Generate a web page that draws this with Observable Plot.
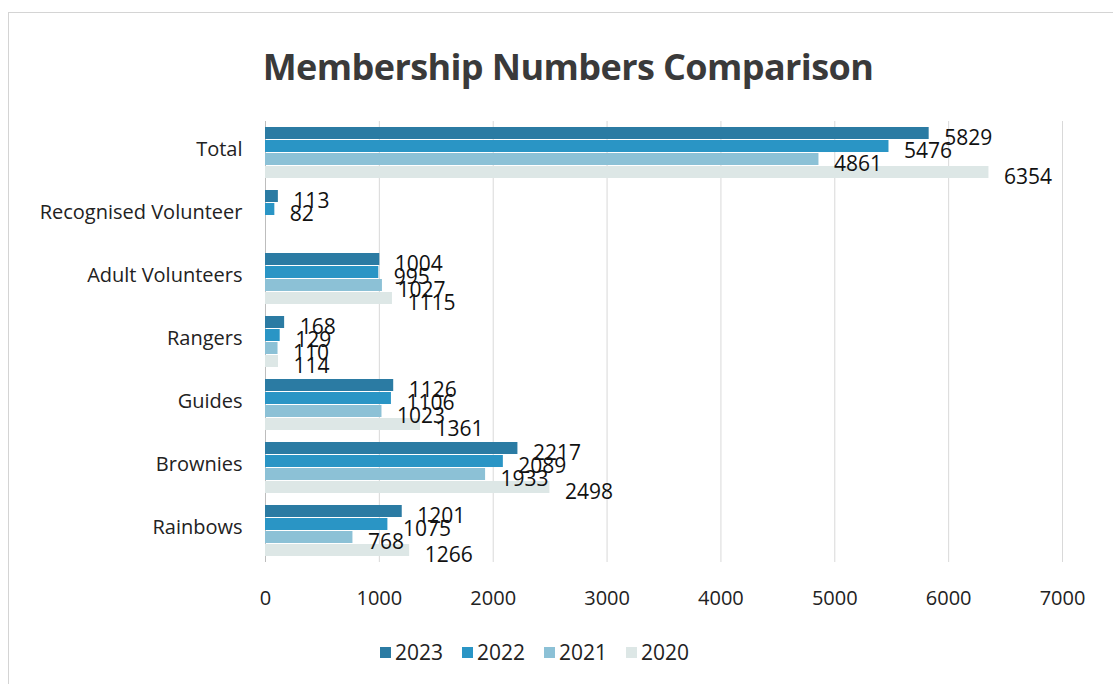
<!DOCTYPE html>
<html>
<head>
<meta charset="utf-8">
<script src="https://cdn.jsdelivr.net/npm/d3@7"></script>
<script src="https://cdn.jsdelivr.net/npm/@observablehq/plot@0.6"></script>
<style>
  html, body { margin: 0; padding: 0; background: #fff; width: 1114px; height: 684px; overflow: hidden; }
  #frame { position: absolute; left: 8px; top: 12px; width: 1104px; height: 680px; border-top: 1px solid #d4d4d4; border-left: 1px solid #d4d4d4; }
  #title { position: absolute; top: 42px; left: 0; width: 1136px; text-align: center; font-family: "Open Sans", sans-serif; font-weight: 700; font-size: 36px; color: #3a3a3a; letter-spacing: -0.6px; line-height: 50px; }
  #chart { position: absolute; top: 100px; left: 0; }
  #legend { position: absolute; top: 639px; left: 380px; display: flex; gap: 19px; font-family: "Open Sans", sans-serif; font-size: 21px; color: #222; line-height: 26px; }
  .item { display: flex; align-items: center; gap: 4px; }
  .sw { width: 11px; height: 11px; display: inline-block; }
</style>
</head>
<body>
<div id="frame"></div>
<div id="title">Membership Numbers Comparison</div>
<div id="chart"></div>
<div id="legend"></div>
<script>
const categories = ["Total", "Recognised Volunteer", "Adult Volunteers", "Rangers", "Guides", "Brownies", "Rainbows"];
const years = ["2023", "2022", "2021", "2020"];
const v2023 = [5829, 113, 1004, 168, 1126, 2217, 1201];
const v2022 = [5476, 82, 995, 129, 1106, 2089, 1075];
const v2021 = [4861, null, 1027, 110, 1023, 1933, 768];
const v2020 = [6354, null, 1115, 114, 1361, 2498, 1266];
const xTicks = [0, 1000, 2000, 3000, 4000, 5000, 6000, 7000];
const colors = ["#2b7ba3", "#2a95c5", "#8cc1d6", "#dde7e6"];

const series = [v2023, v2022, v2021, v2020];
const rows = [];
categories.forEach((c, i) => {
  years.forEach((y, j) => {
    const v = series[j][i];
    if (v != null) rows.push({category: c, year: y, value: v});
  });
});

const chart = Plot.plot({
  width: 1114,
  height: 506,
  marginLeft: 265,
  marginRight: 52,
  marginTop: 21,
  marginBottom: 44,
  style: {fontFamily: "Open Sans, sans-serif", fontSize: "20px", color: "#222", background: "transparent", overflow: "visible"},
  x: {domain: [0, 7000], axis: null},
  y: {domain: years, axis: null, paddingInner: 0.08, paddingOuter: 0.38},
  fy: {domain: categories, padding: 0, label: null, axis: null},
  color: {domain: years, range: colors},
  marks: [
    Plot.gridX(xTicks, {stroke: "#d9d9d9", strokeOpacity: 1}),
    Plot.ruleX([0], {stroke: "#bdbdbd"}),
    Plot.barX(rows, {x: "value", y: "year", fy: "category", fill: "year"}),
    Plot.text(rows, {x: "value", y: "year", fy: "category", text: d => String(d.value), textAnchor: "start", dx: 15, dy: 5, fontSize: 21, fill: "#111"}),
    Plot.axisX(xTicks, {tickSize: 0, tickPadding: 28, fontSize: 20, label: null, tickFormat: d => String(d)}),
    Plot.axisFy({anchor: "left", tickSize: 0, tickPadding: 23, label: null, fontSize: 20, dy: -3})
  ]
});
document.getElementById("chart").appendChild(chart);

const legend = document.getElementById("legend");
years.forEach((y, j) => {
  const item = document.createElement("div");
  item.className = "item";
  const sw = document.createElement("span");
  sw.className = "sw";
  sw.style.background = colors[j];
  const t = document.createElement("span");
  t.textContent = y;
  item.appendChild(sw);
  item.appendChild(t);
  legend.appendChild(item);
});
</script>
</body>
</html>
